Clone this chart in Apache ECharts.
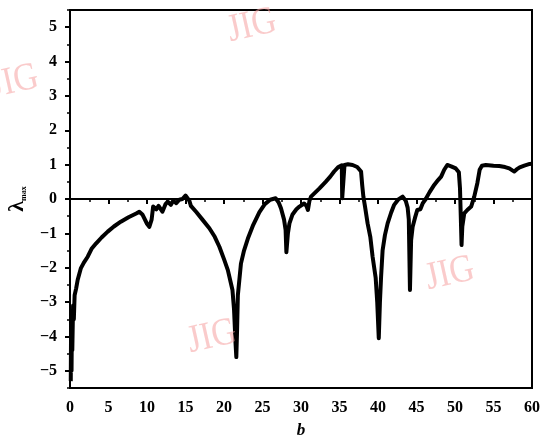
<!DOCTYPE html>
<html><head><meta charset="utf-8">
<script src="https://cdn.jsdelivr.net/npm/echarts@6/dist/echarts.min.js"></script>
<style>html,body{margin:0;padding:0;background:#fff}#c{width:542px;height:439px}</style>
</head><body><div id="c"></div>
<script>
const bValues = [0.1,0.15,0.2,0.25,0.3,0.4,0.5,0.6,0.8,1.0,1.4,1.8,2.3,2.8,3.4,4.1,4.9,5.7,6.6,7.6,8.6,9.0,9.4,10.0,10.3,10.6,10.8,11.2,11.5,12.0,12.4,12.7,13.1,13.4,13.8,14.2,14.6,15.0,15.2,15.5,15.7,16.4,17.2,18.1,18.8,19.4,20.0,20.5,21.1,21.3,21.5,21.6,21.7,21.8,22.2,22.6,23.1,23.8,24.6,25.3,26.0,26.7,27.1,27.4,27.8,28.0,28.1,28.3,28.5,28.9,29.4,29.8,30.4,30.7,30.9,31.1,31.3,31.8,32.4,33.2,33.8,34.3,34.8,35.3,35.35,35.6,35.65,36.1,36.7,37.3,37.8,37.95,38.1,38.3,38.65,39.0,39.3,39.7,39.9,40.1,40.25,40.4,40.6,40.9,41.25,41.7,42.1,42.6,43.2,43.6,43.85,44.0,44.15,44.3,44.5,44.8,45.1,45.5,45.8,46.2,46.7,47.3,47.8,48.2,48.6,49.0,49.5,50.1,50.5,50.65,50.75,50.85,50.95,51.2,51.6,52.1,52.5,52.9,53.2,53.5,54.0,55.0,55.75,56.5,57.05,57.4,57.7,58.0,58.4,59.0,59.7,60.0];
const lambdaValues = [-5.3,-3.4,-5.0,-3.6,-4.4,-3.1,-3.5,-2.8,-2.6,-2.35,-2.02,-1.85,-1.68,-1.45,-1.29,-1.12,-0.95,-0.8,-0.66,-0.53,-0.42,-0.37,-0.45,-0.72,-0.81,-0.6,-0.22,-0.3,-0.2,-0.37,-0.15,-0.08,-0.17,-0.05,-0.12,-0.02,0.0,0.1,0.14,-0.05,-0.2,-0.38,-0.6,-0.85,-1.1,-1.39,-1.75,-2.07,-2.65,-3.2,-4.2,-4.6,-3.8,-2.8,-1.88,-1.5,-1.15,-0.75,-0.38,-0.15,-0.02,0.02,-0.1,-0.27,-0.6,-0.9,-1.55,-1.0,-0.71,-0.45,-0.3,-0.22,-0.13,-0.2,-0.32,-0.05,0.07,0.18,0.31,0.5,0.65,0.8,0.92,0.98,0.02,0.02,0.99,1.01,0.99,0.93,0.8,0.4,0.07,-0.2,-0.71,-1.1,-1.68,-2.3,-3.0,-4.05,-3.0,-2.27,-1.49,-1.05,-0.71,-0.4,-0.17,-0.02,0.07,-0.05,-0.25,-0.6,-2.65,-1.2,-0.81,-0.55,-0.32,-0.3,-0.13,0.0,0.2,0.41,0.55,0.65,0.85,0.99,0.95,0.89,0.78,0.3,-0.5,-1.34,-0.8,-0.42,-0.32,-0.22,0.07,0.46,0.85,0.97,0.99,0.97,0.96,0.93,0.89,0.84,0.8,0.86,0.92,0.97,1.02,1.03];
const yTickValues = [-5,-4,-3,-2,-1,0,1,2,3,4,5];
const yMinorTickValues = [-5.5,-4.5,-3.5,-2.5,-1.5,-0.5,0.5,1.5,2.5,3.5,4.5,5.5];
const xTickLabels = [0,5,10,15,20,25,30,35,40,45,50,55,60];

const data = bValues.map((b,i)=>[b, lambdaValues[i]]);
const labelFont = {fontFamily:'Liberation Serif', fontWeight:'bold', fontSize:16, color:'#000'};
const wm = (x,y)=>({type:'text', x:x, y:y, rotation:0.22, scaleY:1.15, z:100,
  style:{text:'JIG', fill:'rgba(245,160,160,0.55)', font:'34px "Liberation Serif"', align:'center', verticalAlign:'middle'}});

const chart = echarts.init(document.getElementById('c'), null, {renderer:'canvas'});
chart.setOption({
  animation:false,
  backgroundColor:'#fff',
  grid:{left:70, right:10, top:10, bottom:51, outerBoundsMode:'none', containLabel:false, show:true, borderColor:'#000', borderWidth:2, backgroundColor:'transparent'},
  xAxis:{type:'value', min:0, max:60, interval:5,
    name:'b', nameLocation:'middle', nameGap:34,
    nameTextStyle:{fontFamily:'Liberation Serif', fontStyle:'italic', fontWeight:'bold', fontSize:17, color:'#000'},
    axisLine:{lineStyle:{color:'#000', width:2}},
    axisTick:{show:true, length:5, lineStyle:{color:'#000', width:2}},
    minorTick:{show:true, splitNumber:2, length:3, lineStyle:{color:'#000', width:1.5}},
    axisLabel:Object.assign({margin:12, customValues:xTickLabels}, labelFont),
    splitLine:{show:false}},
  yAxis:[{type:'value', min:-5.5, max:5.5,
    name:'{a|λ}{b|max}', nameLocation:'middle', nameGap:42, nameRotate:90,
    nameTextStyle:{color:'#000', rich:{a:{fontFamily:'Liberation Serif', fontSize:22, fontWeight:'bold', color:'#000'}, b:{fontFamily:'Liberation Serif', fontSize:8, fontWeight:'bold', color:'#000', verticalAlign:'bottom', padding:[8,0,0,0]}}},
    axisLine:{lineStyle:{color:'#000', width:2}},
    axisTick:{show:true, length:5, customValues:yTickValues, lineStyle:{color:'#000', width:2}},
    axisLabel:Object.assign({margin:13, customValues:yTickValues, formatter:v=> v<0 ? '\u2212'+Math.abs(v) : String(v)}, labelFont),
    splitLine:{show:false}},
   {type:'value', min:-5.5, max:5.5, position:'left',
    axisLine:{show:false},
    axisTick:{show:true, length:3, customValues:yMinorTickValues, lineStyle:{color:'#000', width:1.5}},
    axisLabel:{show:false}, splitLine:{show:false}}],
  series:[{type:'line', data:data, showSymbol:false, symbol:'none', smooth:false,
    lineStyle:{color:'#000', width:4, join:'round'},
    markLine:{silent:true, symbol:'none', label:{show:false},
      lineStyle:{color:'#000', width:1.5, type:'solid'}, data:[{yAxis:0}]}}],
  graphic:[wm(252,26), wm(14,82), wm(450,274), wm(212,337)]
});
</script></body></html>
